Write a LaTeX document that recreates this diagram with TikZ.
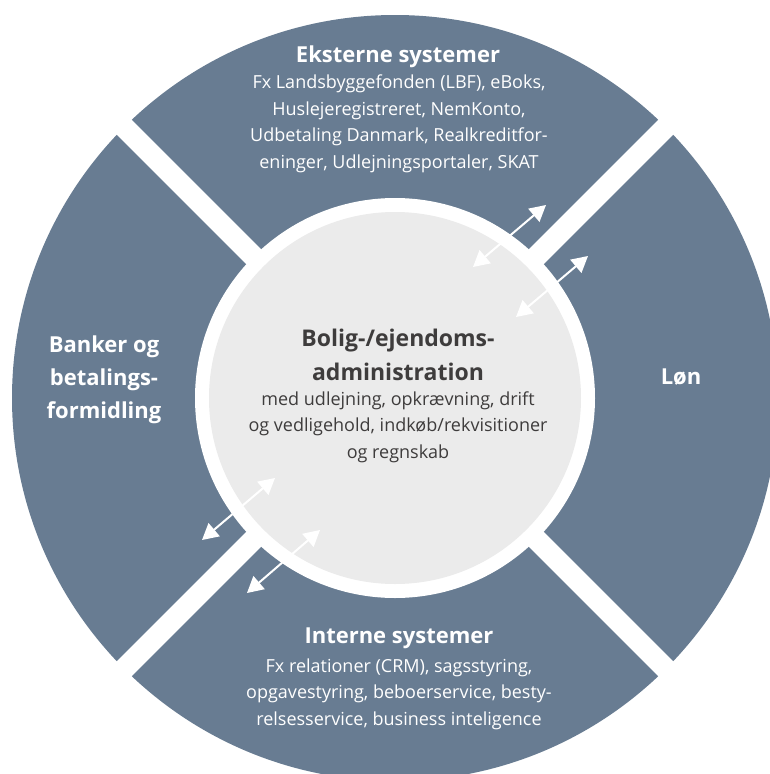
\documentclass[tikz,border=0pt]{standalone}
\usepackage{fontspec}
\setmainfont{Open Sans}
\usetikzlibrary{arrows.meta,calc}
\definecolor{panel}{RGB}{104,124,146}
\definecolor{core}{RGB}{235,235,235}
\definecolor{coretext}{RGB}{62,60,60}
\tikzset{
  headtext/.style={text=white, align=center, font=\bfseries\fontsize{22}{33}\selectfont, inner sep=0pt},
  bodytext/.style={text=white, align=center, font=\fontsize{18}{26.5}\selectfont, inner sep=0pt},
  corehead/.style={text=coretext, align=center, font=\bfseries\fontsize{23}{34}\selectfont, inner sep=0pt},
  corebody/.style={text=coretext, align=center, font=\fontsize{18}{26.5}\selectfont, inner sep=0pt},
  link/.style={white, line width=2pt, {Triangle[length=16pt,width=17pt]}-{Triangle[length=16pt,width=17pt]}},
  gap/.style={white, line width=21pt}
}
\begin{document}
\begin{tikzpicture}[x=1pt,y=-1pt]
\useasboundingbox (0,0) rectangle (769,774);
\coordinate (C) at (395,398);
% outer ring
\fill[panel] (C) circle[radius=383];
% diagonal gaps
\draw[gap] ($(C)+(-420,-420)$) -- ($(C)+(420,420)$);
\draw[gap] ($(C)+(-420,420)$) -- ($(C)+(420,-420)$);
% core
\fill[white] (C) circle[radius=200];
\fill[core] (C) circle[radius=186];
% texts
\node[headtext] (ekst) at (398,57) {Eksterne systemer};
\node[bodytext] (ekstb) at (399,124) {Fx Landsbyggefonden (LBF), eBoks,\\Huslejeregistreret, NemKonto,\\Udbetaling Danmark, Realkreditfor-\\eninger, Udlejningsportaler, SKAT};
\node[headtext] (bank) at (104,380) {Banker og\\betalings-\\formidling};
\node[headtext] (lon) at (681,377) {Løn};
\node[headtext] (int) at (399,638) {Interne systemer};
\node[bodytext] (intb) at (399,694) {Fx relationer (CRM), sagsstyring,\\opgavestyring, beboerservice, besty-\\relsesservice, business inteligence};
\node[corehead] (adm) at (398,355) {Bolig-/ejendoms-\\administration};
\node[corebody] (admb) at (398,427) {med udlejning, opkrævning, drift\\og vedligehold, indkøb/rekvisitioner\\og regnskab};
% arrows
\coordinate (a1s) at (473,267); \coordinate (a1e) at (546,205);
\coordinate (a2s) at (516,317); \coordinate (a2e) at (588,256);
\coordinate (a3s) at (202,540); \coordinate (a3e) at (275,478);
\coordinate (a4s) at (247,593); \coordinate (a4e) at (320,530);
\draw[link] (a1s) -- (a1e);
\draw[link] (a2s) -- (a2e);
\draw[link] (a3s) -- (a3e);
\draw[link] (a4s) -- (a4e);
\end{tikzpicture}
\end{document}
